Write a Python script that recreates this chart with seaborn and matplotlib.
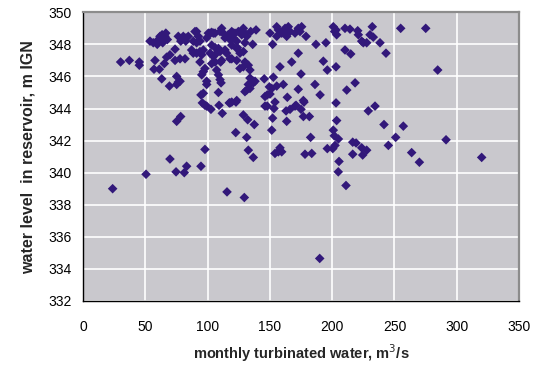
import numpy as np
import pandas as pd
import matplotlib
matplotlib.use("Agg")
import matplotlib.pyplot as plt
import seaborn as sns

# monthly turbinated water (m3/s) vs water level in reservoir (m IGN)
flow = [
    23.8, 30.2, 37.2, 45.2, 45.2, 50.6,
    53.8, 56.4, 59.6, 60.5, 61.8, 63.5, 65.8, 67.7, 66.5, 64.0,
    57.8, 57.0, 61.3, 63.2, 65.3, 67.1, 69.8, 69.4,
    73.9, 77.9, 81.9, 73.9,
    75.2, 76.5, 75.2, 77.9,
    76.5, 80.5, 84.5, 78.5, 82.5, 82.7,
    78.4, 75.2,
    69.8, 74.7, 81.3, 83.2,
    88.5, 89.9, 91.2, 92.6, 91.2, 93.9,
    87.2, 88.5, 91.2, 93.9, 96.6, 95.3,
    93.9, 97.9, 96.6, 95.3, 99.3, 99.3,
    94.7, 96.6, 95.8, 97.9, 99.3, 102.7,
    94.7, 97.9,
    99.3, 100.6, 103.3, 106.0, 102.0, 104.6,
    102.0, 104.6, 103.3, 106.0, 106.0,
    103.3, 106.0, 108.7,
    107.3, 108.7, 110.0, 110.8, 108.7,
    110.0, 111.3, 112.6, 114.0, 116.6, 119.4, 118.0, 120.6,
    111.3, 110.0, 114.0, 110.5, 115.3, 118.0, 119.4,
    109.2, 111.8, 117.4, 118.0, 122.8,
    115.6, 122.6,
    120.7, 124.7, 128.7, 130.0, 127.4, 131.4, 134.6, 138.9, 122.0,
    123.4, 130.0, 136.2, 123.9, 123.4,
    126.0, 128.7, 123.4, 119.4,
    130.0, 132.7, 126.0, 128.7, 134.0,
    134.0, 136.7, 132.7, 134.0, 136.7, 138.1, 130.0, 131.4,
    123.4, 119.4,
    128.7, 132.2, 137.5, 131.4, 132.7, 136.7,
    129.5,
    145.5, 152.8, 146.1, 147.9, 150.1, 149.6, 151.5, 155.5, 160.8,
    146.1, 147.9, 154.1, 153.3,
    164.0, 172.8, 176.9, 170.2,
    163.0, 166.2, 171.0, 175.0, 177.4,
    176.9, 181.7, 152.2, 163.5,
    151.5, 182.7,
    154.1, 158.1, 159.5, 156.8, 178.2, 183.6,
    155.5, 156.8, 162.2, 164.8, 164.8, 163.5, 159.5, 150.1, 155.5, 166.2,
    170.2, 172.8, 175.5, 179.0, 174.2,
    152.2, 172.8, 167.5, 158.1, 175.0,
    187.0, 195.0, 192.9, 196.1, 203.1,
    186.2, 190.3,
    200.9, 203.1, 203.6, 202.0,
    210.3, 214.3, 220.5, 221.0,
    210.3, 214.9,
    211.7, 218.4,
    223.7, 225.0, 227.7, 230.4, 233.0, 232.2, 238.4, 243.2,
    203.1, 203.6,
    200.9, 201.7, 205.0, 202.3, 200.5, 196.1,
    205.5, 204.9, 211.1,
    216.5, 219.2, 216.5, 223.7, 227.7, 224.5,
    229.0, 234.4, 241.6, 245.1,
    251.0, 257.1, 263.8, 270.0, 291.4, 320.0,
    255.0, 275.1, 284.7,
    190.0,
]
level = [
    339.0, 346.9, 347.0, 346.7, 346.9, 339.9,
    348.2, 348.1, 348.0, 348.3, 348.5, 348.6, 348.5, 348.3, 348.7, 348.1,
    347.0, 346.45, 346.45, 345.85, 346.8, 347.2, 347.35, 345.4,
    347.0, 347.1, 347.1, 347.7,
    346.0, 345.65, 345.5, 345.7,
    348.5, 348.5, 348.5, 348.2, 348.2, 348.4,
    343.5, 343.2,
    340.85, 340.05, 340.0, 340.4,
    348.2, 348.8, 348.8, 348.5, 348.1, 348.2,
    347.65, 347.45, 347.45, 347.55, 347.65, 347.35,
    346.9, 346.5, 346.3, 346.1, 345.7, 345.5,
    344.85, 344.95, 344.35, 344.2, 344.15, 343.95,
    340.4, 341.45,
    348.4, 348.7, 348.75, 348.7, 348.7, 348.7,
    347.45, 347.25, 346.8, 346.9, 347.35,
    347.95, 347.8, 347.75,
    346.4, 346.1, 345.8, 345.6, 345.0,
    348.8, 349.0, 348.7, 348.4, 348.6, 348.8, 348.3, 348.4,
    347.0, 347.55, 347.65, 346.9, 347.45, 347.1, 347.95,
    344.2, 343.7, 344.35, 344.35, 344.4,
    338.8, 342.5,
    348.7, 348.8, 349.0, 348.7, 348.6, 348.5, 348.8, 348.9, 348.7,
    348.2, 348.1, 348.0, 347.8, 347.75,
    347.45, 347.55, 347.0, 347.1,
    346.9, 346.7, 346.5, 346.6, 346.4,
    345.9, 345.7, 345.5, 345.25, 345.6, 345.7, 345.05, 345.15,
    344.5, 344.4,
    343.6, 343.3, 343.0, 342.2, 341.4, 340.95,
    338.45,
    345.85, 345.95, 344.75, 344.85, 344.9, 345.35, 345.25, 345.4, 345.5,
    344.15, 344.15, 344.4, 344.0,
    344.7, 345.2, 344.5, 344.15,
    343.85, 343.95, 344.2, 343.95, 344.4,
    343.5, 343.5, 343.4, 343.2,
    342.65, 342.2,
    341.2, 341.55, 341.3, 341.3, 341.15, 341.2,
    349.1, 348.9, 349.0, 349.1, 348.8, 348.5, 348.7, 348.7, 348.5, 348.8,
    348.7, 349.0, 349.1, 348.5, 348.8,
    348.0, 347.45, 346.9, 346.6, 346.15,
    348.0, 348.1, 346.95, 346.4, 346.6,
    345.5, 344.85,
    349.1, 348.9, 348.6, 348.8,
    349.0, 348.95, 348.85, 348.6,
    347.65, 347.4,
    345.15, 345.6,
    348.2, 348.1, 348.1, 348.6, 348.45, 349.1, 348.1, 347.45,
    344.35, 343.25,
    342.65, 342.3, 342.1, 341.7, 341.5, 341.5,
    340.7, 340.05, 339.2,
    341.9, 341.85, 341.15, 341.55, 341.4, 341.1,
    343.85, 344.15, 343.0, 341.7,
    342.2, 342.9, 341.25, 340.65, 342.05, 340.95,
    349.0, 349.0, 346.4,
    334.65,
]
x_ticks = [0, 50, 100, 150, 200, 250, 300, 350]
y_ticks = [332, 334, 336, 338, 340, 342, 344, 346, 348, 350]

df = pd.DataFrame({"flow": flow, "level": level})

sns.set_style("white")
plt.rcParams['font.family'] = ['Liberation Sans', 'DejaVu Sans']

fig = plt.figure(figsize=(5.34, 3.67), dpi=100)
ax = fig.add_axes([0.1554, 0.180, 0.8166, 0.7865])
ax.set_facecolor("#c9c8cd")

sns.scatterplot(data=df, x="flow", y="level", ax=ax, marker="D", s=24,
                color="#32187a", edgecolor="none", linewidth=0, zorder=3)

ax.set_xlim(0, 350)
ax.set_ylim(332, 350)
ax.set_xticks(x_ticks)
ax.set_yticks(y_ticks)
ax.grid(True, color="white", linewidth=1.2, zorder=0)
ax.set_axisbelow(True)
ax.tick_params(axis="both", direction="out", length=4, width=1, colors="black",
               labelsize=10)
ax.tick_params(axis="x", pad=10)
ax.tick_params(axis="y", pad=4)
for side in ["left", "bottom"]:
    ax.spines[side].set_color("black")
    ax.spines[side].set_linewidth(1.0)
for side in ["top", "right"]:
    ax.spines[side].set_color("#8c8c8c")
    ax.spines[side].set_linewidth(1.6)

ax.set_xlabel("monthly turbinated water, m$^3$/s", fontsize=10.5, fontweight="bold", labelpad=6)
ax.set_ylabel("water level  in reservoir, m IGN", fontsize=11.5, fontweight="bold", labelpad=9)

fig.savefig("out.png", dpi=100)
